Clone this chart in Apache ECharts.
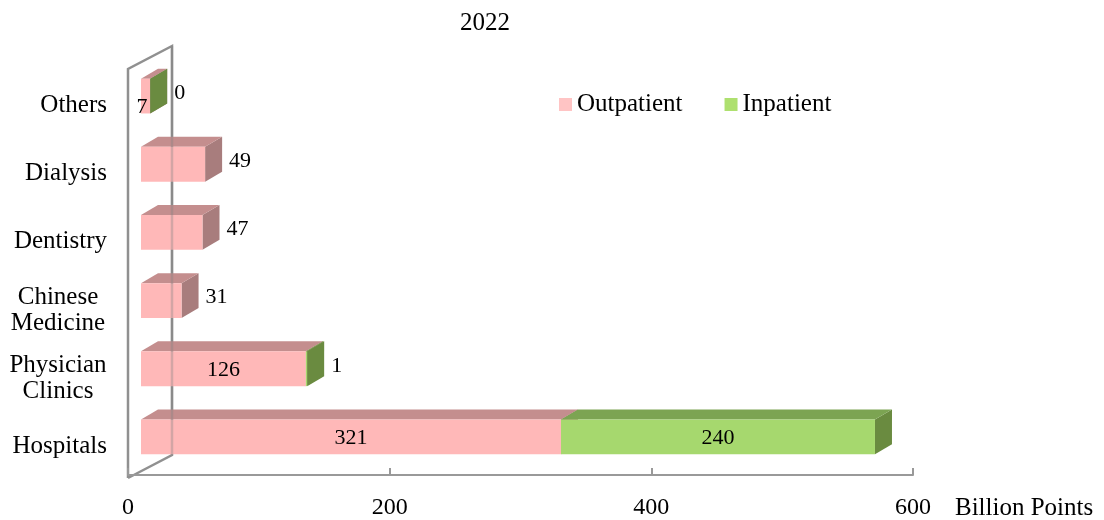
<!DOCTYPE html>
<html>
<head>
<meta charset="utf-8">
<title>2022</title>
<script src="https://cdn.jsdelivr.net/npm/echarts@6/dist/echarts.min.js"></script>
<style>
  html, body { margin: 0; background: #fff; }
  #main { width: 1104px; height: 520px; }
</style>
</head>
<body>
<div id="main"></div>
<script>
!function(){
	'use strict';

	// data, bottom to top
	var categories = ['Hospitals', 'Physician\nClinics', 'Chinese\nMedicine', 'Dentistry', 'Dialysis', 'Others'];
	var outpatient = [321, 126, 31, 47, 49, 7];
	var inpatient  = [240, 1, null, null, null, 0];
	var xTicks = [0, 200, 400, 600];

	var FONT = "'Liberation Serif', 'Times New Roman', serif";
	var OUT = { front: '#ffb8b8', top: '#c48e8e', side: '#a87d7d', legend: '#ffc4c4' };
	var IN  = { front: '#a6d86e', top: '#7ca452', side: '#6a8b40', legend: '#aee06f' };

	// grid + fake 3d depth
	var GL = 128, GR = 191, GT = 66, GB = 42;
	var DX = 17, DY = -10;          // bar depth
	var SX = 13, SY = -4;           // bars sit a bit back from the front plane
	var WDX = 44, WDY = -23;        // back wall depth
	var floorY = 520 - GB;

	function rows(which){
		var out = [];
		for (var i = 0; i < categories.length; i++) {
			if (which === 0) out.push([i, 0, outpatient[i], outpatient[i]]);
			else if (inpatient[i] != null) out.push([i, outpatient[i], outpatient[i] + inpatient[i], inpatient[i]]);
		}
		return out;
	}

	function makeRender(colors, idx){
		return function(params, api){
			var cat = api.value(0), v = api.value(3);
			var p0 = api.coord([api.value(1), cat]);
			var p1 = api.coord([api.value(2), cat]);
			var h = api.size([0, 1])[1] * 0.51;
			var x0 = p0[0] + SX, x1 = p1[0] + SX;
			var yT = p0[1] + SY - h / 2, yB = yT + h, yM = (yT + yB) / 2;
			var kids = [
				{ type: 'polygon', shape: { points: [[x1, yT], [x1 + DX, yT + DY], [x1 + DX, yB + DY], [x1, yB]] }, style: { fill: colors.side } },
				{ type: 'polygon', shape: { points: [[x0, yT], [x0 + DX, yT + DY], [x1 + DX, yT + DY], [x1, yT]] }, style: { fill: colors.top } },
				{ type: 'rect', shape: { x: x0, y: yT, width: x1 - x0, height: h }, style: { fill: colors.front } }
			];
			var lx, ly, al;
			if (x1 - x0 > 100) { lx = (x0 + x1) / 2; ly = yM + 1; al = 'center'; }
			else if (idx === 0 && inpatient[cat] != null) { lx = x0 + 1; ly = yB - 6; al = 'center'; }
			else { lx = x1 + DX + 7; ly = yM - 3; al = 'left'; }
			kids.push({ type: 'text', z2: 5, style: { text: String(v), x: lx, y: ly, align: al, verticalAlign: 'middle', font: '22px ' + FONT, fill: '#000' } });
			return { type: 'group', children: kids };
		};
	}

	var chart = echarts.init(document.getElementById('main'));
	chart.setOption({
		backgroundColor: '#fff',
		animation: false,
		title: { text: '2022', left: 455, top: 6, textStyle: { fontFamily: FONT, fontSize: 25, fontWeight: 'normal', color: '#000' } },
		legend: {
			left: 559, top: 92, padding: 0, icon: 'rect', itemWidth: 13, itemHeight: 13, itemGap: 42,
			textStyle: { fontFamily: FONT, fontSize: 25, color: '#000' },
			data: [
				{ name: 'Outpatient', itemStyle: { color: OUT.legend } },
				{ name: 'Inpatient', itemStyle: { color: IN.legend } }
			]
		},
		grid: { left: GL, right: GR, top: GT, bottom: GB, containLabel: false },
		xAxis: {
			type: 'value', min: xTicks[0], max: xTicks[xTicks.length - 1], interval: xTicks[1] - xTicks[0],
			axisLine: { show: true, lineStyle: { color: '#999', width: 2 } },
			axisTick: { show: true, inside: true, length: 7, lineStyle: { color: '#999', width: 2 } },
			axisLabel: { margin: 21, fontFamily: FONT, fontSize: 24, color: '#000' },
			splitLine: { show: false }
		},
		yAxis: {
			type: 'category', data: categories,
			axisLine: { show: false }, axisTick: { show: false },
			axisLabel: {
				margin: 21, fontFamily: FONT, fontSize: 25, color: '#000', lineHeight: 26, padding: [11, 0, 0, 0],
				formatter: function(v){
					if (v.indexOf('\n') < 0) return v;
					return v.split('\n').map(function(s){ return '{c|' + s + '}'; }).join('\n');
				},
				rich: { c: { width: 98, align: 'center', fontFamily: FONT, fontSize: 25, lineHeight: 26, color: '#000' } }
			}
		},
		graphic: [
			{ type: 'polyline', z: 0, shape: { points: [[GL, floorY], [GL, GT + 3], [GL + WDX, GT + 3 + WDY], [GL + WDX, floorY + WDY], [GL, floorY]] },
			  style: { stroke: '#909090', lineWidth: 2.5, fill: null } },
			{ type: 'line', z: 10, shape: { x1: GL + WDX, y1: GT + 3 + WDY, x2: GL + WDX, y2: floorY + WDY },
			  style: { stroke: '#808080', lineWidth: 2.5, opacity: 0.35 } },
			{ type: 'text', left: 955, top: 496, style: { text: 'Billion Points', font: '25px ' + FONT, fill: '#000' } }
		],
		series: [
			{ name: 'Outpatient', type: 'custom', clip: false, itemStyle: { color: OUT.legend },
			  encode: { x: [1, 2], y: 0 }, data: rows(0), renderItem: makeRender(OUT, 0) },
			{ name: 'Inpatient', type: 'custom', clip: false, itemStyle: { color: IN.legend },
			  encode: { x: [1, 2], y: 0 }, data: rows(1), renderItem: makeRender(IN, 1) }
		]
	});
}()
</script>
</body>
</html>
